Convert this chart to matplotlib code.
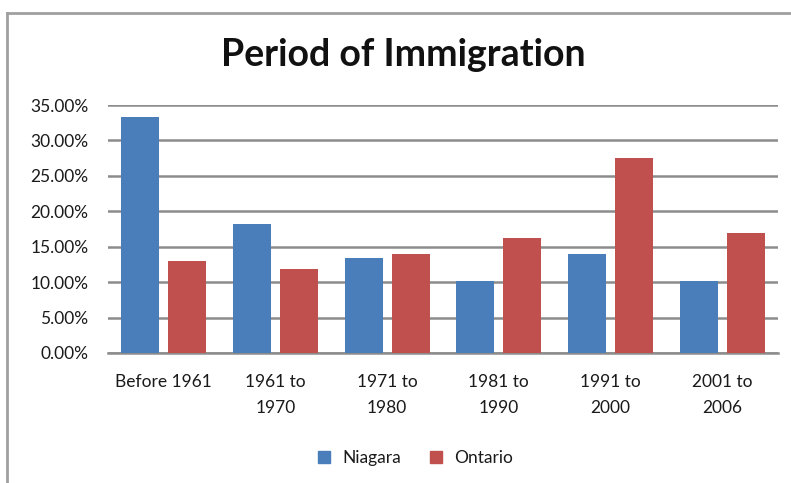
import matplotlib
matplotlib.use("Agg")
import matplotlib.pyplot as plt
import numpy as np
from matplotlib.lines import Line2D

# share of immigrants by period of arrival
periods = ["Before 1961", "1961 to\n1970", "1971 to\n1980",
           "1981 to\n1990", "1991 to\n2000", "2001 to\n2006"]
niagara = [33.3, 18.15, 13.45, 10.2, 13.95, 10.2]
ontario = [13.0, 11.85, 13.95, 16.25, 27.5, 16.95]

blue = "#4a7ebb"
red = "#c0504d"
grid_grey = "#8c8c8c"
text_col = "#1a1a1a"

plt.rcParams["font.family"] = ["Lato", "DejaVu Sans"]

fig = plt.figure(figsize=(7.91, 4.83), dpi=100)
ax = fig.add_axes([0.1365, 0.2692, 0.847, 0.5134])

x = np.arange(len(periods))
w = 0.34
gap = 0.08
ax.bar(x - (w + gap) / 2, niagara, w, color=blue, label="Niagara", zorder=3)
ax.bar(x + (w + gap) / 2, ontario, w, color=red, label="Ontario", zorder=3)

ax.set_xlim(-0.5, len(periods) - 0.5)
ax.set_ylim(0, 35)
ax.set_yticks(np.arange(0, 35.1, 5))
ax.set_yticklabels([f"{v:.2f}%" for v in np.arange(0, 35.1, 5)])
ax.yaxis.grid(True, color=grid_grey, linewidth=1.8, zorder=0)
ax.set_axisbelow(True)
for s in ["top", "right", "left"]:
    ax.spines[s].set_visible(False)
ax.spines["bottom"].set_color(grid_grey)
ax.spines["bottom"].set_linewidth(1.8)
ax.tick_params(axis="both", length=0, labelsize=12.5, colors=text_col)
ax.tick_params(axis="y", pad=14)
ax.tick_params(axis="x", pad=15)
ax.set_xticks(x)
ax.set_xticklabels(periods, linespacing=1.75)

fig.text(0.51, 0.887, "Period of Immigration", ha="center", va="center",
         fontsize=27, fontweight="bold", color="#111111")

handles = [Line2D([], [], marker="s", linestyle="", color=blue, markersize=8),
           Line2D([], [], marker="s", linestyle="", color=red, markersize=8)]
fig.legend(handles, ["Niagara", "Ontario"], loc="center",
           bbox_to_anchor=(0.518, 0.052), ncol=2, frameon=False,
           fontsize=12.5, handletextpad=0.05, columnspacing=1.0,
           labelcolor=text_col)

# outer chart frame (top and left edges)
fig.add_artist(Line2D([7 / 791, 1], [1 - 13 / 483] * 2, transform=fig.transFigure,
                      color="#a0a0a0", linewidth=2))
fig.add_artist(Line2D([7 / 791] * 2, [0, 1 - 13 / 483], transform=fig.transFigure,
                      color="#a0a0a0", linewidth=2))

fig.savefig("out.png", dpi=100)
